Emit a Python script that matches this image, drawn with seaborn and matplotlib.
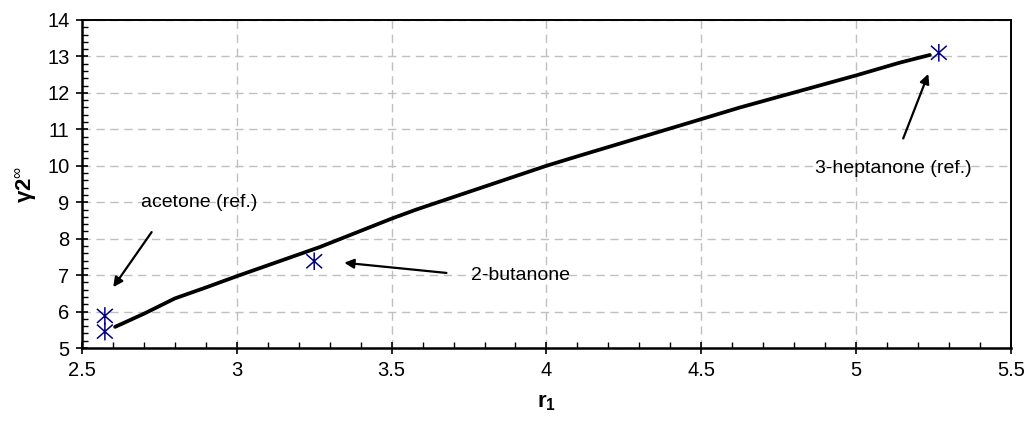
import matplotlib
matplotlib.use("Agg")
import matplotlib.pyplot as plt
from matplotlib.ticker import MultipleLocator
from matplotlib.markers import MarkerStyle
from matplotlib.path import Path
import seaborn as sns
import pandas as pd

# Correlation curve: gamma2-infinity versus r1
curve_r1 = [2.607, 2.70, 2.80, 2.90, 3.00, 3.268, 3.50, 3.58, 4.00, 4.108, 4.50, 4.625, 5.00, 5.141, 5.238]
curve_gamma = [5.58, 5.94, 6.36, 6.66, 6.97, 7.77, 8.55, 8.80, 10.00, 10.28, 11.28, 11.60, 12.48, 12.83, 13.04]

# Measured solutes
solute_names = ["acetone (ref.)", "acetone (ref.)", "2-butanone", "3-heptanone (ref.)"]
solute_r1 = [2.574, 2.574, 3.25, 5.267]
solute_gamma = [5.88, 5.45, 7.38, 13.10]

sns.set_theme(style="white")
plt.rcParams["font.family"] = ["Liberation Sans", "DejaVu Sans"]
plt.rcParams["text.color"] = "black"
plt.rcParams["axes.labelcolor"] = "black"
plt.rcParams["mathtext.fontset"] = "custom"
plt.rcParams["mathtext.rm"] = "Liberation Sans"
plt.rcParams["mathtext.it"] = "Liberation Sans:italic"
plt.rcParams["mathtext.bf"] = "Liberation Sans:bold"

# Asterisk marker: an X with a vertical stroke
star_path = Path(
    [(0, -1), (0, 1), (-0.9, -0.8), (0.9, 0.8), (-0.9, 0.8), (0.9, -0.8)],
    [Path.MOVETO, Path.LINETO, Path.MOVETO, Path.LINETO, Path.MOVETO, Path.LINETO],
)
star_marker = MarkerStyle(star_path)

fig = plt.figure(figsize=(10.27, 4.28), dpi=100)
ax = fig.add_axes([0.0798, 0.1869, 0.9046, 0.7664])

curve = pd.DataFrame({"r1": curve_r1, "gamma": curve_gamma})
points = pd.DataFrame({"r1": solute_r1, "gamma": solute_gamma, "name": solute_names})

sns.lineplot(data=curve, x="r1", y="gamma", ax=ax, color="black", linewidth=2.7,
             sort=False, estimator=None, zorder=3)
sns.scatterplot(data=points, x="r1", y="gamma", ax=ax, marker=star_marker,
                facecolor="none", edgecolor="#000080", s=160, linewidth=1.1,
                zorder=4, legend=False)

ax.set_xlim(2.5, 5.5)
ax.set_ylim(5, 14)
ax.xaxis.set_major_locator(MultipleLocator(0.5))
ax.xaxis.set_minor_locator(MultipleLocator(0.1))
ax.yaxis.set_major_locator(MultipleLocator(1))
ax.yaxis.set_minor_locator(MultipleLocator(0.2))
ax.set_xticks([2.5, 3, 3.5, 4, 4.5, 5, 5.5])
ax.set_xticklabels(["2.5", "3", "3.5", "4", "4.5", "5", "5.5"])

ax.grid(True, which="major", color="#c0c0c0", linestyle=(0, (6, 4)), linewidth=1.0)
ax.set_axisbelow(True)
for side in ["left", "bottom"]:
    ax.spines[side].set_linewidth(1.8)
for side in ["top", "right"]:
    ax.spines[side].set_linewidth(1.4)
for sp in ax.spines.values():
    sp.set_color("black")
    sp.set_visible(True)

ax.tick_params(which="major", direction="inout", length=8, width=1.2, colors="black",
               labelsize=14.5, pad=5, left=True, bottom=True)
ax.tick_params(which="minor", direction="in", length=4, width=1.0, colors="black",
               left=True, bottom=True)

ax.set_xlabel(r"$\mathbf{r}_\mathbf{1}$", fontsize=16, labelpad=9)
ax.set_ylabel(r"$\mathbf{\gamma 2}^{\infty}$", fontsize=16, labelpad=6)

arrow = dict(arrowstyle="-|>", color="black", lw=1.6, mutation_scale=14, shrinkA=0, shrinkB=0)
ax.text(2.88, 9.0, "acetone (ref.)", fontsize=14, ha="center", va="center")
ax.annotate("", xy=(2.601, 6.67), xytext=(2.725, 8.18), arrowprops=arrow)
ax.text(3.916, 7.0, "2-butanone", fontsize=14, ha="center", va="center")
ax.annotate("", xy=(3.347, 7.34), xytext=(3.677, 7.06), arrowprops=arrow)
ax.text(5.121, 9.93, "3-heptanone (ref.)", fontsize=14, ha="center", va="center")
ax.annotate("", xy=(5.233, 12.52), xytext=(5.152, 10.75), arrowprops=arrow)

fig.savefig("out.png", dpi=100)
